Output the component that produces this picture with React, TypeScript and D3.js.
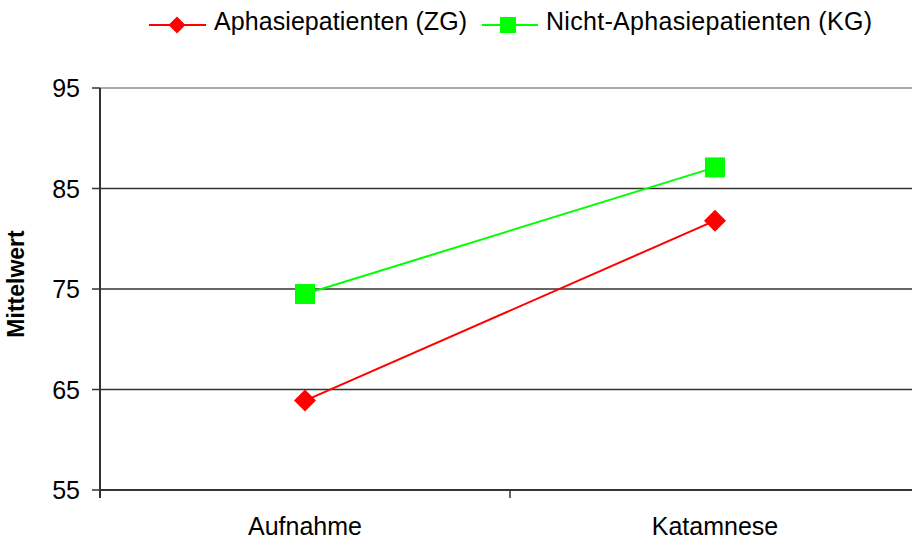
import React from "react";
import * as d3 from "d3";

const categories = ["Aufnahme", "Katamnese"];
const aphasieValues = [63.9, 81.8];
const kontrollValues = [74.5, 87.1];
const seriesNames = ["Aphasiepatienten (ZG)", "Nicht-Aphasiepatienten (KG)"];
const yTicks = [55, 65, 75, 85, 95];
const yTitle = "Mittelwert";

const W = 912;
const H = 543;
const FONT = "'Liberation Sans', Arial, sans-serif";
const RED = "#ff0000";
const GREEN = "#00ff00";

export default function App() {
  const x = d3.scaleBand<string>().domain(categories).range([100, 920]);
  const y = d3.scaleLinear().domain([55, 95]).range([490, 88]);
  const cx = (c: string) => (x(c) ?? 0) + x.bandwidth() / 2;

  const line = d3
    .line<number>()
    .x((_, i) => cx(categories[i]))
    .y((v) => y(v));

  const boundaries = [100, ...categories.map((c) => (x(c) ?? 0) + x.bandwidth())];

  const diamond = (px: number, py: number, r: number) =>
    `M${px},${py - r}L${px + r},${py}L${px},${py + r}L${px - r},${py}Z`;

  return (
    <svg
      width={W}
      height={H}
      style={{ position: "fixed", left: 0, top: 0, background: "#fff" }}
      fontFamily={FONT}
    >
      <rect width={W} height={H} fill="#fff" />
      {/* horizontal gridlines */}
      {yTicks.map((t) => (
        <line
          key={"g" + t}
          x1={100}
          x2={W}
          y1={y(t)}
          y2={y(t)}
          stroke={t === 95 ? "#8c8c8c" : "#333"}
          strokeWidth={t === 55 ? 2 : 1.5}
        />
      ))}
      {/* y axis */}
      <line x1={100} x2={100} y1={y(95)} y2={y(55) + 8} stroke="#333" strokeWidth={2} />
      {yTicks.map((t) => (
        <g key={"t" + t}>
          <line x1={92} x2={100} y1={y(t)} y2={y(t)} stroke="#333" strokeWidth={1.5} />
          <text x={80} y={y(t)} dy="0.36em" textAnchor="end" fontSize={25} fill="#000">
            {t}
          </text>
        </g>
      ))}
      {/* x axis tick marks at category boundaries */}
      {boundaries.map((b, i) => (
        <line key={"xb" + i} x1={b} x2={b} y1={y(55)} y2={y(55) + 8} stroke="#333" strokeWidth={1.5} />
      ))}
      {categories.map((c) => (
        <text key={c} x={cx(c)} y={535} textAnchor="middle" fontSize={25} fill="#000">
          {c}
        </text>
      ))}
      {/* y title */}
      <text
        transform={`translate(24,${(y(55) + y(95)) / 2 - 5}) rotate(-90)`}
        textAnchor="middle"
        fontSize={23}
        fontWeight="bold"
        fill="#000"
      >
        {yTitle}
      </text>

      {/* series */}
      <path d={line(aphasieValues) ?? ""} fill="none" stroke={RED} strokeWidth={2} />
      <path d={line(kontrollValues) ?? ""} fill="none" stroke={GREEN} strokeWidth={2} />
      {aphasieValues.map((v, i) => (
        <path key={"r" + i} d={diamond(cx(categories[i]), y(v), 11)} fill={RED} />
      ))}
      {kontrollValues.map((v, i) => (
        <rect key={"s" + i} x={cx(categories[i]) - 10} y={y(v) - 10} width={20} height={20} fill={GREEN} />
      ))}

      {/* legend */}
      <g>
        <line x1={149} x2={206} y1={25} y2={25} stroke={RED} strokeWidth={2} />
        <path d={diamond(177, 25, 8.5)} fill={RED} />
        <text x={214} y={30} fontSize={25} fill="#000" textLength={253} lengthAdjust="spacing">
          {seriesNames[0]}
        </text>
        <line x1={482} x2={538} y1={25} y2={25} stroke={GREEN} strokeWidth={2} />
        <rect x={500} y={17} width={16} height={16} fill={GREEN} />
        <text x={546} y={30} fontSize={25} fill="#000" textLength={326} lengthAdjust="spacing">
          {seriesNames[1]}
        </text>
      </g>
    </svg>
  );
}
